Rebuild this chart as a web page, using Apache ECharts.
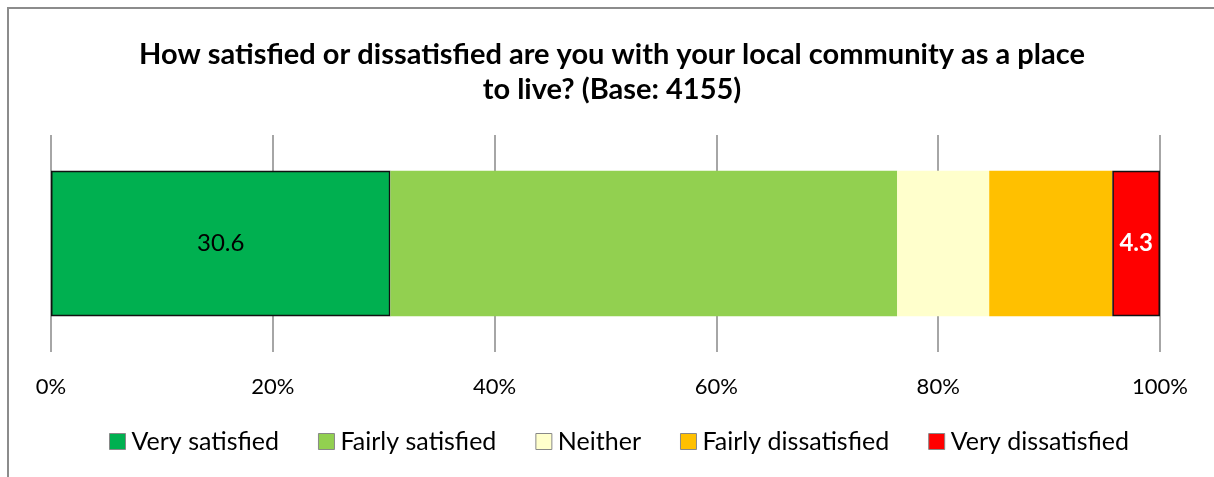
<!DOCTYPE html>
<html>
<head>
<meta charset="utf-8">
<script src="https://cdn.jsdelivr.net/npm/echarts@6/dist/echarts.min.js"></script>
<style>
  html, body { margin: 0; padding: 0; background: #fff; }
  #frame { position: absolute; left: 7px; top: 7px; width: 1300px; height: 600px;
           border-left: 2px solid #8c8c8c; border-top: 2px solid #8c8c8c; box-sizing: border-box; }
  #chart { position: absolute; left: 0; top: 0; width: 1214px; height: 477px; }
</style>
</head>
<body>
<div id="frame"></div>
<div id="chart"></div>
<script>
const titleText = 'How satisfied or dissatisfied are you with your local community as a place\nto live? (Base: 4155)';
const categories = ['Community'];
const seriesNames = ['Very satisfied', 'Fairly satisfied', 'Neither', 'Fairly dissatisfied', 'Very dissatisfied'];
const verySatisfied = [30.6];
const fairlySatisfied = [45.7];
const neither = [8.3];
const fairlyDissatisfied = [11.1];
const veryDissatisfied = [4.3];
const xTicks = [0, 20, 40, 60, 80, 100];

const colors = ['#00b050', '#92d050', '#ffffcc', '#ffc000', '#ff0000'];
const FONT = 'Lato';

const values = [verySatisfied, fairlySatisfied, neither, fairlyDissatisfied, veryDissatisfied];
const series = values.map((vals, i) => {
  const s = {
    name: seriesNames[i],
    type: 'bar',
    stack: 'total',
    data: vals,
    barWidth: '67%',
    itemStyle: { color: colors[i] },
    label: { show: false }
  };
  if (i === 0) {
    s.itemStyle.borderColor = '#111';
    s.itemStyle.borderWidth = 1.5;
    s.label = { show: true, position: 'inside', color: '#000', fontFamily: FONT, fontSize: 24,
      formatter: p => p.value.toFixed(1) };
  }
  if (i === 4) {
    s.itemStyle.borderColor = '#111';
    s.itemStyle.borderWidth = 1.5;
    s.label = { show: true, position: 'inside', color: '#fff', fontWeight: 'bold', fontFamily: FONT, fontSize: 24,
      formatter: p => p.value.toFixed(1) };
  }
  return s;
});

const chart = echarts.init(document.getElementById('chart'), null, { renderer: 'canvas' });
chart.setOption({
  animation: false,
  backgroundColor: 'transparent',
  title: {
    text: titleText,
    left: '50%',
    top: 32,
    textAlign: 'center',
    textStyle: { fontFamily: FONT, fontWeight: 'bold', fontSize: 29, color: '#000', lineHeight: 35 }
  },
  legend: {
    data: seriesNames,
    bottom: 18,
    left: 104,
    itemWidth: 16,
    itemHeight: 16,
    itemGap: 39,
    icon: 'rect',
    itemStyle: { borderColor: '#888', borderWidth: 1 },
    textStyle: { fontFamily: FONT, fontSize: 25, color: '#000', padding: [0, 0, 0, 1] }
  },
  grid: { left: 51, right: 54, top: 135, bottom: 125, containLabel: false },
  xAxis: {
    type: 'value',
    min: xTicks[0],
    max: xTicks[xTicks.length - 1],
    interval: xTicks[1] - xTicks[0],
    axisLine: { show: false },
    axisTick: { show: false },
    axisLabel: { formatter: '{value}%', fontFamily: FONT, fontSize: 22, color: '#000', margin: 24 },
    splitLine: { show: true, lineStyle: { color: '#888', width: 1.5 } }
  },
  yAxis: {
    type: 'category',
    data: categories,
    axisLine: { show: false },
    axisTick: { show: false },
    axisLabel: { show: false }
  },
  series: series
});
</script>
</body>
</html>
